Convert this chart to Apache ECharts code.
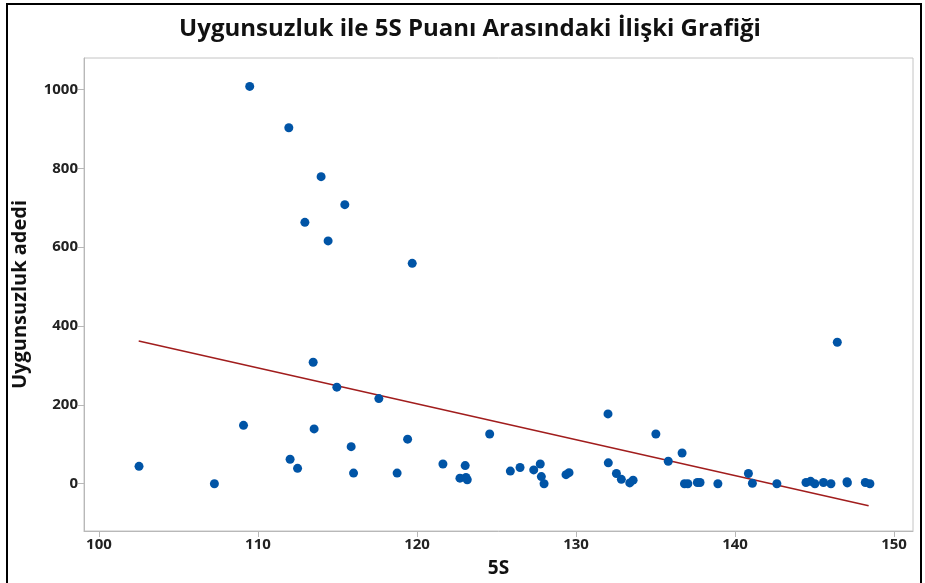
<!DOCTYPE html>
<html>
<head>
<meta charset="utf-8">
<script src="https://cdn.jsdelivr.net/npm/echarts@6/dist/echarts.min.js"></script>
<style>
  html, body { margin: 0; padding: 0; background: #fff; }
  #chart { width: 925px; height: 583px; }
</style>
</head>
<body>
<div id="chart"></div>
<script>
// 5S puanı (x) ve uygunsuzluk adedi (y)
const scoreX = [
  109.48, 111.94, 113.97, 115.46, 112.95, 114.41, 119.7,
  102.52, 107.26, 109.09, 113.47, 114.96, 117.6, 113.53, 115.86, 112.02, 112.49, 116.01,
  119.41, 118.75, 121.63, 123.03, 122.70, 123.08, 123.16, 124.57, 125.87, 126.48,
  127.34, 127.75, 127.82, 127.99, 129.37, 129.56, 132.01, 132.03, 132.54, 132.85,
  133.38, 133.59, 135.02, 135.8, 146.43, 136.67, 136.82, 137.03, 137.63, 137.80,
  138.92, 140.84, 141.09, 142.63, 144.46, 144.75, 145.02, 145.56, 146.03,
  147.04, 147.06, 148.19, 148.48
];
const defectY = [
  1008, 903, 779, 708, 663, 616, 559,
  44, 0, 148, 308, 245, 216, 139, 94, 62, 39, 27,
  113, 27, 50, 46, 14, 16, 10, 126, 32, 41,
  35, 50, 18, 0, 23, 28, 177, 53, 26, 11,
  2, 9, 126, 57, 359, 78, 0, 0, 3, 3,
  0, 26, 1, 0, 3, 6, 0, 3, 0,
  5, 2, 3, 0
];
// uydurulmuş doğru uç noktaları
const fitX = [102.5, 148.4];
const fitY = [362, -56];
const xTicks = [100, 110, 120, 130, 140, 150];
const yTicks = [0, 200, 400, 600, 800, 1000];

const points = scoreX.map((x, i) => [x, defectY[i]]);
const fitLine = fitX.map((x, i) => [x, fitY[i]]);

const font = '"Open Sans", "Noto Sans", sans-serif';
const chart = echarts.init(document.getElementById('chart'));
chart.setOption({
  backgroundColor: '#fff',
  animation: false,
  title: {
    text: 'Uygunsuzluk ile 5S Puanı Arasındaki İlişki Grafiği',
    left: 465,
    textAlign: 'center',
    top: 12,
    textStyle: { fontFamily: font, fontSize: 24, fontWeight: 'bold', color: '#111' }
  },
  graphic: [{
    type: 'rect',
    shape: { x: 7, y: 4, width: 914, height: 620 },
    style: { fill: 'none', stroke: '#000', lineWidth: 2 },
    silent: true
  }],
  grid: {
    left: 84, right: 12, top: 58, bottom: 50,
    show: true, borderColor: '#c4c4c4', borderWidth: 1, backgroundColor: 'transparent'
  },
  xAxis: {
    type: 'value',
    min: 99.06,
    max: 151.19,
    name: '5S',
    nameLocation: 'middle',
    nameGap: 28,
    nameTextStyle: { fontFamily: font, fontSize: 19, fontWeight: 'bold', color: '#111' },
    axisLine: { show: true, onZero: false, lineStyle: { color: '#b8b8b8' } },
    axisTick: { show: true, length: 6, lineStyle: { color: '#b8b8b8' }, customValues: xTicks },
    axisLabel: { customValues: xTicks, margin: 6, fontFamily: font, fontSize: 15, fontWeight: 'bold', color: '#222', formatter: v => String(v) },
    splitLine: { show: false }
  },
  yAxis: {
    type: 'value',
    min: -120,
    max: 1080,
    name: 'Uygunsuzluk adedi',
    nameLocation: 'middle',
    nameGap: 54,
    nameTextStyle: { fontFamily: font, fontSize: 20, fontWeight: 'bold', color: '#111' },
    axisLine: { show: true, onZero: false, lineStyle: { color: '#b8b8b8' } },
    axisTick: { show: true, length: 6, lineStyle: { color: '#b8b8b8' }, customValues: yTicks },
    axisLabel: { customValues: yTicks, margin: 6, fontFamily: font, fontSize: 15, fontWeight: 'bold', color: '#222', formatter: v => String(v) },
    splitLine: { show: false }
  },
  series: [
    {
      type: 'line',
      data: fitLine,
      showSymbol: false,
      symbol: 'none',
      lineStyle: { color: '#a11d1d', width: 1.5 },
      z: 2
    },
    {
      type: 'scatter',
      data: points,
      symbolSize: 9,
      itemStyle: { color: '#0054a6', opacity: 1 },
      z: 3
    }
  ]
});
</script>
</body>
</html>
